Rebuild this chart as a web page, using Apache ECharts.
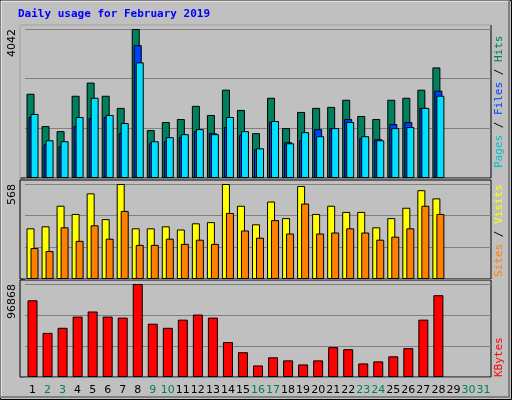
<!DOCTYPE html>
<html><head><meta charset="utf-8">
<script src="https://cdn.jsdelivr.net/npm/echarts@6/dist/echarts.min.js"></script>
<style>html,body{margin:0;padding:0;background:#c0c0c0}#c{width:512px;height:400px}</style>
</head><body><div id="c"></div>
<script>
const days = ['1','2','3','4','5','6','7','8','9','10','11','12','13','14','15','16','17','18','19','20','21','22','23','24','25','26','27','28','29','30','31'];
const weekend = ['2','3','9','10','16','17','23','24','30','31'];
const hits = [2286,1408,1271,2231,2588,2231,1902,4042,1299,1518,1600,1957,1710,2396,1847,1216,2177,1353,1792,1902,1930,2122,1683,1600,2122,2177,2396,3000];
const files = [1655,915,860,1408,1628,1655,1216,3603,942,997,1107,1271,1216,1381,1161,777,1518,969,1024,1326,1353,1600,1079,1052,1463,1518,1902,2369];
const pages = [1738,1024,997,1655,2177,1710,1491,3137,997,1107,1189,1326,1189,1655,1271,805,1546,942,1244,1134,1353,1518,1134,1024,1353,1381,1902,2231];
const visits = [303,315,438,389,512,358,568,303,303,315,296,333,340,568,438,327,463,364,556,389,438,401,401,309,364,426,531,482];
const sites = [185,167,309,228,321,241,407,204,204,241,210,235,210,395,290,247,352,272,451,272,278,303,278,235,253,303,438,389];
const kbytes = [79891,45955,51258,62923,68226,62923,61863,96868,55500,51258,59742,65044,61863,36411,25806,12019,20503,17322,13080,17322,31108,28987,14140,16261,21564,30048,59742,85194];
const maxLabels = [4042, 568, 96868];

const C = {hits:'#00805c', files:'#0040ff', pages:'#00e0ff', visits:'#ffff00', sites:'#ff8000', kb:'#ff0000'};
const panels = [[25,178],[180,279],[280,377]];
const grids = panels.map(p => ({left:25, right:21, top:p[0]+4, height:p[1]-p[0]-4}));
function yAx(i){
  const m = maxLabels[i];
  return {gridIndex:i, min:0, max:m, interval:m/3, axisLine:{show:false}, axisTick:{show:false},
    splitLine:{show:true, lineStyle:{color:'#808080', width:1}},
    axisLabel:{show:true, rotate:90, align:'right', verticalAlign:'bottom', margin:7, fontFamily:'DejaVu Sans', fontSize:11, color:'#000',
      formatter:v => Math.abs(v-m)<0.5 ? String(m) : ''}};
}
function xAx(i){
  return {gridIndex:i, type:'category', data:days, axisLine:{show:false}, axisTick:{show:false},
    axisLabel:{show:i===2, interval:0, margin:8, fontFamily:'DejaVu Sans', fontSize:11,
      color:(v)=> weekend.includes(v) ? '#00805c' : '#000'}};
}
const bs = {borderColor:'#000', borderWidth:1};
const series = [
  {type:'bar', xAxisIndex:0, yAxisIndex:0, data:hits, barWidth:8, barGap:'-75%', itemStyle:Object.assign({color:C.hits},bs)},
  {type:'bar', xAxisIndex:0, yAxisIndex:0, data:files, barWidth:8, barGap:'-75%', itemStyle:Object.assign({color:C.files},bs)},
  {type:'bar', xAxisIndex:0, yAxisIndex:0, data:pages, barWidth:8, barGap:'-75%', itemStyle:Object.assign({color:C.pages},bs)},
  {type:'bar', xAxisIndex:1, yAxisIndex:1, data:visits, barWidth:8, barGap:'-50%', itemStyle:Object.assign({color:C.visits},bs)},
  {type:'bar', xAxisIndex:1, yAxisIndex:1, data:sites, barWidth:8, barGap:'-50%', itemStyle:Object.assign({color:C.sites},bs)},
  {type:'bar', xAxisIndex:2, yAxisIndex:2, data:kbytes, barWidth:10, itemStyle:Object.assign({color:C.kb},bs)}
];
const frames = panels.map(p => ({type:'rect', z:-1, shape:{x:20, y:p[0], width:471, height:p[1]-p[0]},
  style:{fill:'#c0c0c0', stroke:'#000', lineWidth:1}}));
frames.push({type:'polyline', z:0, shape:{points:[[20,178],[20,25],[491,25]]}, style:{stroke:'#fff',lineWidth:1,fill:null}});
const font = 'bold 11px "DejaVu Sans Mono"';
const graphics = [
  {type:'rect', z:-2, shape:{x:0.5,y:0.5,width:511,height:399}, style:{fill:'#c0c0c0', stroke:'#000', lineWidth:1}},
  {type:'polyline', z:-1, shape:{points:[[1,398],[1,1],[510,1]]}, style:{stroke:'#fff',fill:null}},
  {type:'polyline', z:-1, shape:{points:[[1,397],[509,397],[509,1]]}, style:{stroke:'#808080',lineWidth:2,fill:null}},
  {type:'text', left:18, top:9, style:{text:'Daily usage for February 2019', font:font, fill:'#0000ff'}},
  {type:'text', x:494, y:168, rotation:Math.PI/2, style:{text:'{p|Pages} {s|/} {f|Files} {s|/} {h|Hits}', font:'11px "DejaVu Sans Mono"',
    rich:{p:{fill:'#00c0d0',font:'11px "DejaVu Sans Mono"'}, f:{fill:C.files,font:'11px "DejaVu Sans Mono"'}, h:{fill:C.hits,font:'11px "DejaVu Sans Mono"'}, s:{fill:'#000',font:'11px "DejaVu Sans Mono"'}}}},
  {type:'text', x:494, y:277, rotation:Math.PI/2, style:{text:'{a|Sites} {s|/} {b|Visits}', font:'11px "DejaVu Sans Mono"',
    rich:{a:{fill:C.sites,font:'11px "DejaVu Sans Mono"'}, b:{fill:C.visits,font:'11px "DejaVu Sans Mono"'}, s:{fill:'#000',font:'11px "DejaVu Sans Mono"'}}}},
  {type:'text', x:494, y:377, rotation:Math.PI/2, style:{text:'KBytes', font:'11px "DejaVu Sans Mono"', fill:C.kb}}
].concat(frames);
const chart = echarts.init(document.getElementById('c'));
chart.setOption({animation:false, backgroundColor:'#c0c0c0', grid:grids,
  xAxis:[0,1,2].map(xAx), yAxis:[0,1,2].map(yAx), series:series, graphic:graphics});
</script></body></html>
